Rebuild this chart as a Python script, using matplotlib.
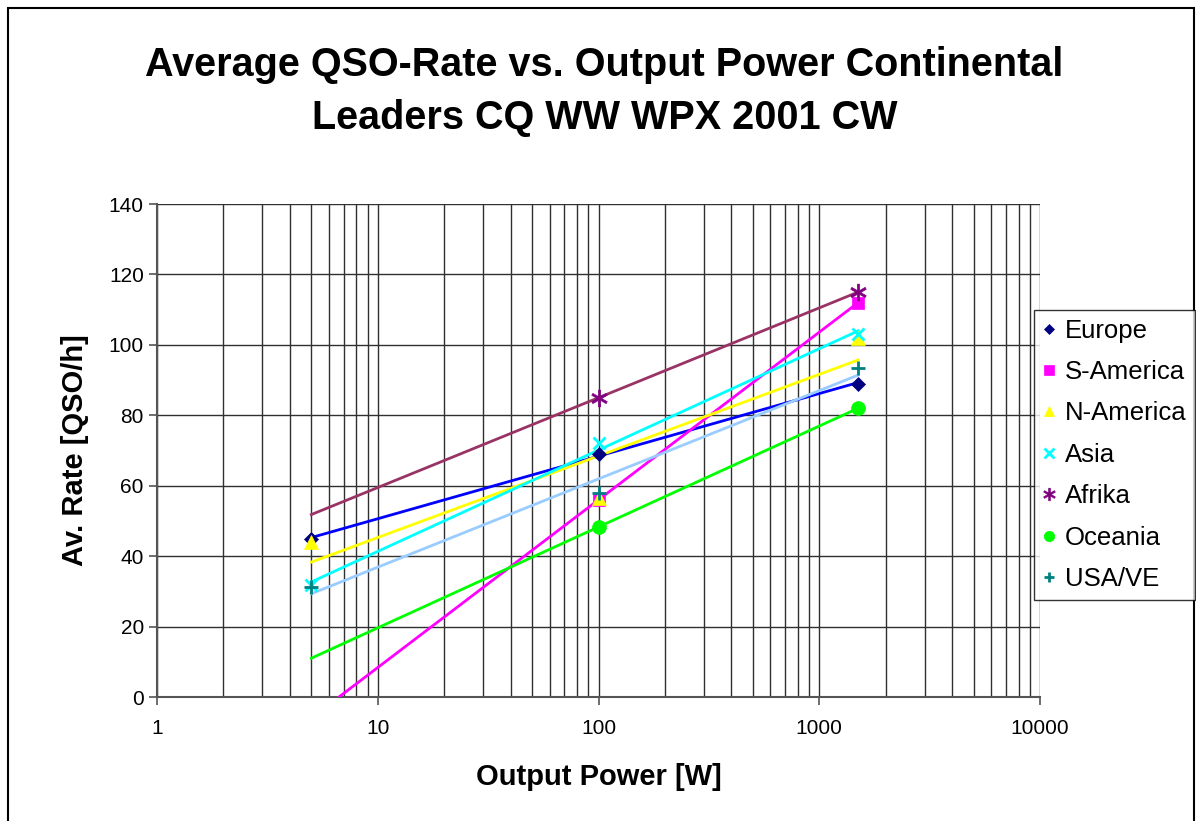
import numpy as np
import matplotlib
matplotlib.use('Agg')
import matplotlib.pyplot as plt
from matplotlib.patches import Rectangle
from matplotlib.ticker import LogLocator, NullFormatter, FixedLocator

plt.rcParams['font.family'] = ['Liberation Sans', 'DejaVu Sans']

# values (x = output power in W)
power = [5, 100, 1500]
europe = [45.0, 69.0, 89.0]
s_america = [None, 56.0, 112.0]
n_america = [44.0, 56.5, 102.0]
asia = [31.8, 72.0, 103.0]
afrika = [None, 85.0, 115.0]
oceania = [None, 48.3, 82.0]
usa_ve = [31.2, 58.0, 93.5]

names = ['Europe', 'S-America', 'N-America', 'Asia', 'Afrika', 'Oceania', 'USA/VE']
series = [europe, s_america, n_america, asia, afrika, oceania, usa_ve]
marker_col = ['#000080', '#FF00FF', '#FFFF00', '#00FFFF', '#800080', '#00FF00', '#008080']
line_col = ['#0000FF', '#FF00FF', '#FFFF00', '#00FFFF', '#993366', '#00FF00', '#99CCFF']
markers = ['D', 's', '^', 'x', '$\u2217$', 'o', '+']
msizes = [7, 9, 10, 9, 12, 10, 10]

fig = plt.figure(figsize=(11.96, 8.21), dpi=100)
ax = fig.add_axes([0.1313, 0.151, 0.7383, 0.6005])

# log trend lines, drawn over the full 5..1500 W span
xs = np.logspace(np.log10(power[0]), np.log10(power[-1]), 200)
for vals, lc in zip(series, line_col):
    px = np.array([p for p, v in zip(power, vals) if v is not None], float)
    py = np.array([v for v in vals if v is not None], float)
    k, b = np.polyfit(np.log10(px), py, 1)
    ax.plot(xs, k * np.log10(xs) + b, color=lc, lw=2, zorder=3)

handles = []
for name, vals, mc, mk, ms in zip(names, series, marker_col, markers, msizes):
    px = [p for p, v in zip(power, vals) if v is not None]
    py = [v for v in vals if v is not None]
    lw = 2 if mk in ('x', '+') else 0.5
    h, = ax.plot(px, py, ls='none', marker=mk, ms=ms, color=mc, mec=mc, mew=lw,
                 label=name, zorder=4, clip_on=False)
    handles.append(h)

ax.set_xscale('log')
ax.set_xlim(1, 10000)
ax.set_ylim(0, 140)
ax.set_yticks(range(0, 141, 20))
ax.xaxis.set_major_locator(FixedLocator([1, 10, 100, 1000, 10000]))
ax.set_xticklabels(['1', '10', '100', '1000', '10000'])
ax.xaxis.set_minor_locator(LogLocator(base=10, subs=np.arange(2, 10)))
ax.xaxis.set_minor_formatter(NullFormatter())
ax.grid(True, which='major', axis='both', color='#303030', lw=1)
ax.grid(True, which='minor', axis='x', color='#303030', lw=1)
ax.set_axisbelow(True)
for s in ['top', 'right']:
    ax.spines[s].set_visible(False)
for s in ['left', 'bottom']:
    ax.spines[s].set_color('#555555')
    ax.spines[s].set_linewidth(1.5)
ax.tick_params(axis='both', which='major', labelsize=15, length=6, color='#555555', width=1.2)
ax.tick_params(axis='x', which='major', pad=10)
ax.tick_params(axis='x', which='minor', length=0)
ax.set_xlabel('Output Power [W]', fontsize=21, fontweight='bold', labelpad=18)
ax.set_ylabel('Av. Rate [QSO/h]', fontsize=21, fontweight='bold', labelpad=14)

fig.text(0.5054, 0.843, 'Average QSO-Rate vs. Output Power Continental\nLeaders CQ WW WPX 2001 CW',
         ha='center', va='baseline', fontsize=28.5, fontweight='bold', linespacing=1.5)

leg = fig.legend(handles=handles, loc='upper left', bbox_to_anchor=(0.8645, 0.623),
                 fontsize=18.5, frameon=True, fancybox=False, edgecolor='black',
                 handlelength=0.5, handletextpad=0.35, labelspacing=0.68,
                 borderpad=0.35, markerscale=0.75, borderaxespad=0)
leg.get_frame().set_linewidth(1)

fig.patches.append(Rectangle((8 / 1196, -0.1), 1186 / 1196, 1 - 8 / 821 + 0.1,
                             transform=fig.transFigure, fill=False, ec='black', lw=1.5))

fig.savefig('out.png', dpi=100)
